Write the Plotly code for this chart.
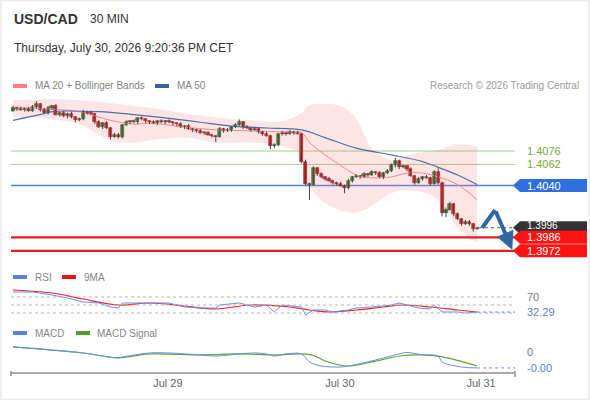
import plotly.graph_objects as go

W, H = 590, 400
def PX(x): return x / W
def PY(y): return 1 - y / H

# ---------------- data ----------------
pair = "USD/CAD"
timeframe = "30 MIN"
timestamp = "Thursday, July 30, 2026 9:20:36 PM CET"
copyright_text = "Research © 2026 Trading Central"

first_open = 1.4118
closes = [1.4121, 1.4120, 1.4119, 1.4120, 1.4118, 1.4122, 1.4125, 1.4119, 1.4116, 1.4121,
          1.4123, 1.4114, 1.4116, 1.4112, 1.4115, 1.4111, 1.4108, 1.4109, 1.4117, 1.4116,
          1.4115, 1.4106, 1.4101, 1.4105, 1.4100, 1.4091, 1.4093, 1.4091, 1.4103, 1.4106,
          1.4107, 1.4106, 1.4110, 1.4109, 1.4107, 1.4106, 1.4105, 1.4107, 1.4106, 1.4107,
          1.4106, 1.4105, 1.4104, 1.4101, 1.4102, 1.4099, 1.4098, 1.4097, 1.4095, 1.4095,
          1.4093, 1.4092, 1.4091, 1.4099, 1.4097, 1.4098, 1.4101, 1.4103, 1.4106, 1.4101,
          1.4100, 1.4098, 1.4099, 1.4096, 1.4094, 1.4092, 1.4081, 1.4082, 1.4094, 1.4095,
          1.4094, 1.4096, 1.4095, 1.4094, 1.4065, 1.4042, 1.4041, 1.4058, 1.4052, 1.4049,
          1.4047, 1.4045, 1.4043, 1.4042, 1.4040, 1.4037, 1.4045, 1.4049, 1.4050, 1.4049,
          1.4052, 1.4051, 1.4054, 1.4053, 1.4049, 1.4053, 1.4055, 1.4061, 1.4066, 1.4059,
          1.4060, 1.4057, 1.4050, 1.4043, 1.4047, 1.4049, 1.4048, 1.4042, 1.4054, 1.4043,
          1.4011, 1.4015, 1.4021, 1.4010, 1.4005, 1.4000, 1.4002, 1.4000, 1.3995, 1.3996]
up_wick = [2, 1, 2, 1, 2, 2, 3, 1, 2, 2,
           1, 2, 1, 2, 1, 2, 1, 2, 2, 1,
           2, 1, 2, 1, 2, 1, 2, 2, 1, 2,
           1, 2, 1, 2, 1, 1, 2, 1, 2, 1,
           2, 1, 1, 2, 1, 2, 1, 1, 2, 1,
           2, 1, 1, 2, 1, 2, 1, 2, 3, 1,
           2, 1, 2, 1, 1, 2, 1, 2, 1, 2,
           1, 2, 1, 2, 1, 2, 1, 2, 1, 2,
           1, 2, 1, 1, 2, 1, 2, 1, 2, 1,
           2, 1, 2, 1, 2, 1, 2, 2, 3, 1,
           2, 1, 2, 1, 2, 1, 2, 1, 2, 4,
           1, 2, 2, 1, 2, 1, 2, 2, 1, 1]
dn_wick = [1, 2, 1, 2, 1, 1, 2, 2, 1, 2,
           2, 1, 2, 1, 2, 1, 2, 1, 1, 2,
           1, 2, 1, 2, 1, 3, 1, 2, 2, 1,
           2, 1, 2, 1, 2, 2, 1, 2, 1, 2,
           1, 2, 2, 1, 2, 1, 2, 2, 1, 2,
           1, 2, 6, 1, 2, 1, 2, 1, 1, 2,
           1, 2, 1, 2, 2, 1, 3, 2, 1, 2,
           2, 1, 2, 1, 2, 2, 16, 1, 2, 1,
           2, 1, 2, 2, 1, 5, 1, 2, 1, 2,
           1, 2, 1, 2, 1, 2, 1, 1, 2, 2,
           1, 2, 1, 2, 1, 2, 1, 2, 1, 2,
           3, 4, 1, 2, 1, 2, 1, 2, 3, 1]

tick_pos = [39.7, 83.8, 120.0]
tick_text = ["Jul 29", "Jul 30", "Jul 31"]

# MA 20 + Bollinger (read at sample candles)
ma20_idx = [0, 8, 17, 25, 31, 35, 44, 52, 61, 69, 74, 76, 79, 84, 88, 92, 97, 101, 105, 109, 114, 119]
ma20 = [1.4122, 1.4120, 1.4117, 1.4108, 1.4104, 1.4105, 1.4101, 1.4098, 1.4097, 1.4096, 1.4095,
        1.4085, 1.4075, 1.4061, 1.4051, 1.4048, 1.4049, 1.4053, 1.4053, 1.4049, 1.4041, 1.4025]
bb_upper = [1.4129, 1.4130, 1.4129, 1.4126, 1.4123, 1.4121, 1.4115, 1.4111, 1.4108, 1.4107, 1.4116,
            1.4124, 1.4125, 1.4123, 1.4110, 1.4079, 1.4067, 1.4071, 1.4075, 1.4077, 1.4083, 1.4081]
bb_lower = [1.4112, 1.4110, 1.4104, 1.4087, 1.4085, 1.4087, 1.4090, 1.4085, 1.4085, 1.4081, 1.4072,
            1.4041, 1.4025, 1.4014, 1.4012, 1.4019, 1.4032, 1.4035, 1.4033, 1.4025, 1.3996, 1.3980]

ma50_idx = [0, 8, 10, 22, 31, 40, 48, 56, 65, 74, 80, 88, 97, 105, 109, 114, 119]
ma50 = [1.4108, 1.4115, 1.4117, 1.4117, 1.4114, 1.4110, 1.4106, 1.4102, 1.4100, 1.4098,
        1.4090, 1.4079, 1.4072, 1.4065, 1.4059, 1.4051, 1.4041]

resistances = [1.4076, 1.4062]
pivot = 1.4040
last_price = 1.3996
supports = [1.3986, 1.3972]

forecast_idx = [120.3, 123.6, 128.0]
forecast_price = [1.3996, 1.40145, 1.3973]

rsi_idx = [0, 5, 10, 14, 18, 22, 25, 27, 28, 35, 40, 44, 48, 52, 53, 58, 62, 65, 67, 69,
           74, 75, 77, 80, 82, 86, 88, 92, 97, 99, 101, 104, 107, 108, 110, 114, 116, 119]
rsi = [82.5, 82.5, 75, 67.5, 57.5, 55, 45, 42.5, 55, 55, 55, 45, 42.5, 42.5, 50, 55, 45, 50, 32.5, 50,
       45, 25, 37.5, 37.5, 32.5, 37.5, 42.5, 45, 50, 55, 50, 42.5, 40, 50, 32.5, 32.5, 30, 32.29]
rsi_ma_idx = [0, 10, 18, 27, 35, 44, 52, 61, 71, 76, 81, 88, 95, 100, 107, 114, 119]
rsi_ma = [87.5, 80, 65, 50, 55, 47.5, 40, 50, 45, 37.5, 32.5, 37.5, 45, 50, 45, 37.5, 32.5]
rsi_levels = [70, 50, 30]

macd_idx = [0, 10, 18, 27, 28, 35, 40, 48, 52, 58, 62, 65, 67, 70, 74, 76, 79, 84, 86, 93,
            100, 101, 105, 109, 110, 115, 119]
macd = [0.00036, 0.00014, -0.00007, -0.00043, -0.00036, -0.00007, -0.00007, -0.00021, -0.00029,
        -0.00014, -0.00007, -0.00014, -0.00029, -0.00014, -0.00014, -0.00071, -0.00100, -0.00107,
        -0.00100, -0.00057, -0.00007, -0.00003, -0.00020, -0.00029, -0.00071, -0.00107, -0.00114]
signal_idx = [0, 10, 18, 27, 35, 48, 58, 67, 74, 77, 80, 86, 93, 100, 105, 109, 114, 119]
signal = [0.00036, 0.00014, -0.00007, -0.00040, -0.00014, -0.00021, -0.00014, -0.00021, -0.00014,
          -0.00025, -0.00064, -0.00100, -0.00065, -0.00025, -0.00021, -0.00029, -0.00060, -0.00100]

# ---------------- layout constants ----------------
FONT = "Liberation Sans, Arial, sans-serif"
X0_PX, X1_PX = 11, 515
XR = [-0.51, 128.7]
MAIN_PX = (95, 262)
Y_MAIN = [1.39603, 1.41344]
RSI_PX = (285, 325)
MACD_PX = (340, 372)
Y_MACD = [-0.001429, 0.000857]

RED = "#e3161d"
RED_EDGE = "#a51015"
GREEN = "#2f8a2f"
GREEN_EDGE = "#1e5a1e"
BLUE_IND = "#6a8ee6"

n = len(closes)
idx = list(range(n))
opens = [first_open] + closes[:-1]
highs = [max(o, c) + u * 1e-4 for o, c, u in zip(opens, closes, up_wick)]
lows = [min(o, c) - d * 1e-4 for o, c, d in zip(opens, closes, dn_wick)]

fig = go.Figure()

# Bollinger band
fig.add_trace(go.Scatter(x=ma20_idx, y=bb_upper, mode="lines", line=dict(width=0, shape="spline"),
                         hoverinfo="skip", showlegend=False))
fig.add_trace(go.Scatter(x=ma20_idx, y=bb_lower, mode="lines", line=dict(width=0, shape="spline"),
                         fill="tonexty", fillcolor="rgba(250,110,110,0.18)", hoverinfo="skip",
                         showlegend=False))
fig.add_trace(go.Scatter(x=ma20_idx, y=ma20, mode="lines",
                         line=dict(width=1, color="#f08a8a", shape="spline"), showlegend=False))
fig.add_trace(go.Scatter(x=ma50_idx, y=ma50, mode="lines",
                         line=dict(width=1.2, color="#4f6fa8", shape="spline"), showlegend=False))

# candle wicks
wx, wy = [], []
for i, lo, hi in zip(idx, lows, highs):
    wx += [i, i, None]
    wy += [lo, hi, None]
fig.add_trace(go.Scatter(x=wx, y=wy, mode="lines", line=dict(width=1, color="#444444"),
                         hoverinfo="skip", showlegend=False))
# candle bodies
base = [min(o, c) for o, c in zip(opens, closes)]
height = [max(abs(c - o), 0.00004) for o, c in zip(opens, closes)]
up = [c >= o for o, c in zip(opens, closes)]
colors = [GREEN if u else RED for u in up]
edges = [GREEN_EDGE if u else RED_EDGE for u in up]
fig.add_trace(go.Bar(x=idx, y=height, base=base, width=0.8,
                     marker=dict(color=colors, line=dict(width=0.6, color=edges)), showlegend=False))

# forecast arrow
fig.add_trace(go.Scatter(x=forecast_idx[:2], y=forecast_price[:2], mode="lines",
                         line=dict(width=4, color="#2e66a8"), showlegend=False))

# RSI
fig.add_trace(go.Scatter(x=rsi_ma_idx, y=rsi_ma, yaxis="y2", mode="lines",
                         line=dict(width=1.2, color="#e8232a", shape="spline"), showlegend=False))
fig.add_trace(go.Scatter(x=rsi_idx, y=rsi, yaxis="y2", mode="lines",
                         line=dict(width=1, color=BLUE_IND), showlegend=False))
# MACD
fig.add_trace(go.Scatter(x=signal_idx, y=signal, yaxis="y3", mode="lines",
                         line=dict(width=1.2, color="#5aa832", shape="spline"), showlegend=False))
fig.add_trace(go.Scatter(x=macd_idx, y=macd, yaxis="y3", mode="lines",
                         line=dict(width=1, color=BLUE_IND, shape="spline"), showlegend=False))

shapes = []
annotations = []

# outer frame
shapes.append(dict(type="rect", xref="paper", yref="paper", x0=0, x1=1, y0=0, y1=1,
                   line=dict(color="#e8ecf0", width=3), layer="above"))

# level lines
for r in resistances:
    shapes.append(dict(type="line", xref="x", yref="y", x0=XR[0], x1=XR[1], y0=r, y1=r,
                       line=dict(color="#a3d18a", width=1), layer="below"))
shapes.append(dict(type="line", xref="paper", yref="y", x0=PX(X0_PX), x1=PX(517), y0=pivot, y1=pivot,
                   line=dict(color="#4d86e6", width=1.5), layer="below"))
for s in supports:
    shapes.append(dict(type="line", xref="paper", yref="y", x0=PX(X0_PX), x1=PX(517), y0=s, y1=s,
                       line=dict(color="#f01a1a", width=2.2)))
shapes.append(dict(type="line", xref="x", yref="y", x0=n - 0.5, x1=XR[1], y0=last_price, y1=last_price,
                   line=dict(color="#555555", width=1, dash="dot")))

# right-side price tags
ppx = (Y_MAIN[1] - Y_MAIN[0]) / (MAIN_PX[1] - MAIN_PX[0])
hh = 6.5 * ppx
def tag(price, color):
    return dict(type="path", xref="paper", yref="y", fillcolor=color, line=dict(width=0),
                path=(f"M {PX(513)},{price} L {PX(520)},{price + hh} L {PX(587)},{price + hh} "
                      f"L {PX(587)},{price - hh} L {PX(520)},{price - hh} Z"))
shapes.append(tag(pivot, "#2f6fde"))
shapes.append(tag(last_price, "#333333"))
for s in supports:
    shapes.append(tag(s, "#ff1212"))

for r in resistances:
    annotations.append(dict(xref="paper", yref="y", x=PX(525), y=r, text=f"{r:.4f}", showarrow=False,
                            xanchor="left", yanchor="middle", font=dict(size=11, color="#74ad3c")))
annotations.append(dict(xref="paper", yref="y", x=PX(525), y=last_price, text=f"{last_price:.4f}",
                        showarrow=False, xanchor="left", yanchor="middle", yshift=2,
                        font=dict(size=10, color="white")))
for p in [pivot] + supports:
    annotations.append(dict(xref="paper", yref="y", x=PX(525), y=p, text=f"{p:.4f}", showarrow=False,
                            xanchor="left", yanchor="middle", font=dict(size=11, color="white")))

# forecast arrow head
annotations.append(dict(xref="x", yref="y", axref="x", ayref="y", x=forecast_idx[2], y=forecast_price[2],
                        ax=forecast_idx[1], ay=forecast_price[1], showarrow=True, arrowhead=2,
                        arrowsize=0.9, arrowwidth=4, arrowcolor="#2e66a8", text=""))

# RSI levels
for lv in rsi_levels:
    shapes.append(dict(type="line", xref="paper", yref="y2", x0=PX(X0_PX), x1=PX(X1_PX), y0=lv, y1=lv,
                       line=dict(color="#b5b5b5", width=1, dash="dot")))
shapes.append(dict(type="line", xref="x", yref="y2", x0=rsi_idx[-1], x1=XR[1], y0=rsi[-1], y1=rsi[-1],
                   line=dict(color=BLUE_IND, width=1, dash="dot")))
annotations.append(dict(xref="paper", yref="y2", x=PX(525), y=rsi_levels[0], text="70", showarrow=False,
                        xanchor="left", yanchor="middle", font=dict(size=11, color="#777777")))
annotations.append(dict(xref="paper", yref="y2", x=PX(525), y=rsi[-1], text=f"{rsi[-1]:.2f}",
                        showarrow=False, xanchor="left", yanchor="middle",
                        font=dict(size=11, color="#5b80dc")))
# MACD
shapes.append(dict(type="line", xref="x", yref="y3", x0=macd_idx[-1], x1=XR[1], y0=macd[-1], y1=macd[-1],
                   line=dict(color=BLUE_IND, width=1, dash="dot")))
annotations.append(dict(xref="paper", yref="y3", x=PX(525), y=0, text="0", showarrow=False,
                        xanchor="left", yanchor="middle", font=dict(size=11, color="#777777")))
annotations.append(dict(xref="paper", yref="y3", x=PX(525), y=macd[-1], text=f"{macd[-1]:.2f}",
                        showarrow=False, xanchor="left", yanchor="middle",
                        font=dict(size=11, color="#5b80dc")))

# axis end ticks
shapes.append(dict(type="line", xref="paper", yref="paper", x0=PX(X0_PX), x1=PX(X0_PX), y0=PY(371), y1=PY(376),
                   line=dict(color="#aaaaaa", width=2)))
shapes.append(dict(type="line", xref="paper", yref="paper", x0=PX(X1_PX), x1=PX(X1_PX), y0=PY(371), y1=PY(377),
                   line=dict(color="#aaaaaa", width=2)))

# header
annotations.append(dict(xref="paper", yref="paper", x=PX(12), y=PY(19), text=f"<b>{pair}</b>",
                        showarrow=False, xanchor="left", yanchor="middle", font=dict(size=14, color="#333333")))
annotations.append(dict(xref="paper", yref="paper", x=PX(88), y=PY(19), text=timeframe,
                        showarrow=False, xanchor="left", yanchor="middle", font=dict(size=12, color="#333333")))
annotations.append(dict(xref="paper", yref="paper", x=PX(12), y=PY(48), text=timestamp,
                        showarrow=False, xanchor="left", yanchor="middle", font=dict(size=12, color="#333333")))
annotations.append(dict(xref="paper", yref="paper", x=PX(581), y=PY(86), text=copyright_text,
                        showarrow=False, xanchor="right", yanchor="middle", font=dict(size=10, color="#9a9a9a")))

# legends
def legend(x_sw, y, color, x_txt, text):
    shapes.append(dict(type="rect", xref="paper", yref="paper", x0=PX(x_sw), x1=PX(x_sw + 14),
                       y0=PY(y + 2), y1=PY(y - 2), fillcolor=color, line=dict(width=0)))
    annotations.append(dict(xref="paper", yref="paper", x=PX(x_txt), y=PY(y), text=text, showarrow=False,
                            xanchor="left", yanchor="middle", font=dict(size=10, color="#858585")))
legend(13, 86, "#ff8080", 33, "MA 20 + Bollinger Bands")
legend(155, 86, "#3d5f9f", 175, "MA 50")
legend(13, 277, "#5b7fe0", 33, "RSI")
legend(62, 277, "#ee1111", 82, "9MA")
legend(13, 333, "#5b7fe0", 33, "MACD")
legend(76, 333, "#4aa02c", 95, "MACD Signal")

fig.update_layout(
    width=W, height=H, margin=dict(l=0, r=0, t=0, b=0, pad=0),
    paper_bgcolor="white", plot_bgcolor="white", font=dict(family=FONT),
    showlegend=False, barmode="overlay", bargap=0,
    xaxis=dict(domain=[PX(X0_PX), PX(X1_PX)], range=XR, anchor="y3", showline=True, linecolor="#aaaaaa",
               linewidth=2, tickvals=tick_pos, ticktext=tick_text, ticks="", showgrid=False, zeroline=False,
               tickfont=dict(size=11, color="#666666"), fixedrange=True),
    yaxis=dict(domain=[PY(MAIN_PX[1]), PY(MAIN_PX[0])], range=Y_MAIN, visible=False, fixedrange=True),
    yaxis2=dict(domain=[PY(RSI_PX[1]), PY(RSI_PX[0])], range=[0, 100], visible=False, anchor="x"),
    yaxis3=dict(domain=[PY(MACD_PX[1]), PY(MACD_PX[0])], range=Y_MACD, visible=False, anchor="x"),
    shapes=shapes, annotations=annotations,
)

fig.write_html("out.html", config={"displayModeBar": False},
               post_script="document.body.style.margin='0px';document.body.style.overflow='hidden';")
